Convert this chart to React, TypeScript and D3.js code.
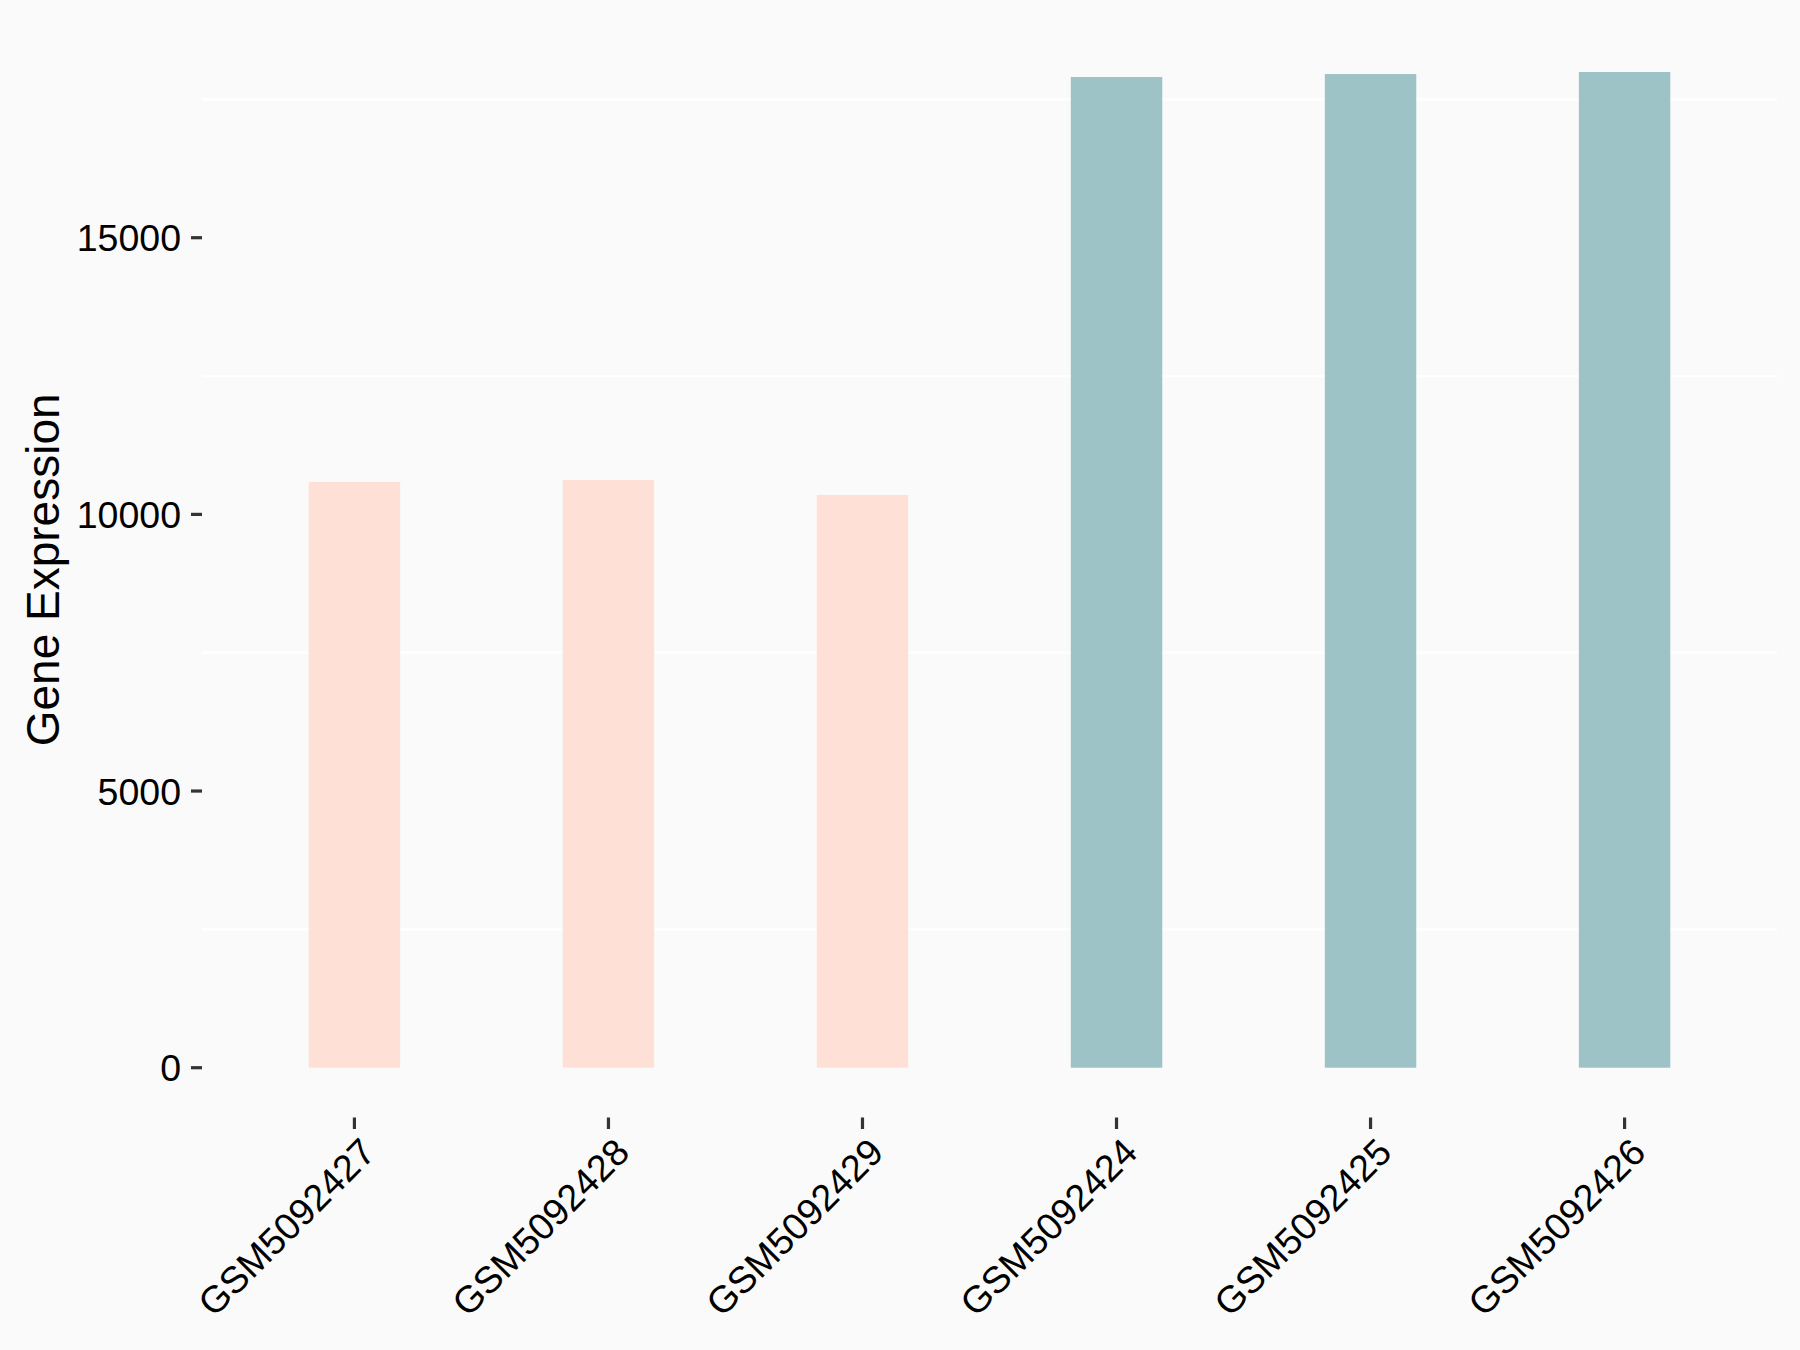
import React from "react";
import * as d3 from "d3";

const samples = ["GSM5092427", "GSM5092428", "GSM5092429", "GSM5092424", "GSM5092425", "GSM5092426"];
const expression = [10585, 10621, 10350, 17904, 17958, 17995];
const groups = ["B", "B", "B", "A", "A", "A"];
const groupColors: Record<string, string> = { A: "#9DC3C7", B: "#FFE0D6" };
const yTicks = [0, 5000, 10000, 15000];
const yMinor = [2500, 7500, 12500, 17500];

const W = 1800;
const H = 1350;
const panel = { left: 202, right: 1777, top: 22.2, bottom: 1117.5 };
const FONT = "'Liberation Sans', Arial, Helvetica, sans-serif";

export default function App() {
  const maxV = d3.max(expression) as number;
  const pad = maxV * 0.05;
  const y = d3.scaleLinear().domain([-pad, maxV + pad]).range([panel.bottom, panel.top]);
  const x = d3.scalePoint<string>().domain(samples).range([panel.left, panel.right]).padding(0.6);
  const step = x.step();
  const barW = step * 0.36;

  return (
    <svg
      width={W}
      height={H}
      viewBox={`0 0 ${W} ${H}`}
      style={{ position: "absolute", left: 0, top: 0, display: "block" }}
    >
      <rect x={0} y={0} width={W} height={H} fill="#FAFAFA" />
      {yMinor.map((v) => (
        <line key={"g" + v} x1={panel.left} x2={panel.right} y1={y(v)} y2={y(v)} stroke="#FFFFFF" strokeWidth={2.2} />
      ))}
      {samples.map((s, i) => (
        <rect
          key={s}
          x={(x(s) as number) - barW / 2}
          y={y(expression[i])}
          width={barW}
          height={y(0) - y(expression[i])}
          fill={groupColors[groups[i]]}
        />
      ))}
      {yTicks.map((v) => (
        <g key={"t" + v}>
          <line x1={panel.left - 11} x2={panel.left} y1={y(v)} y2={y(v)} stroke="#333333" strokeWidth={3.2} />
          <text
            x={panel.left - 21}
            y={y(v)}
            dy="0.36em"
            textAnchor="end"
            fontFamily={FONT}
            fontSize={37.5}
            fill="#000000"
          >
            {v}
          </text>
        </g>
      ))}
      {samples.map((s) => {
        const cx = x(s) as number;
        return (
          <g key={"x" + s}>
            <line x1={cx} x2={cx} y1={panel.bottom} y2={panel.bottom + 11.5} stroke="#333333" strokeWidth={3.2} />
            <text
              transform={`translate(${cx + 4},${panel.bottom + 18}) rotate(-45)`}
              textAnchor="end"
              dy="0.72em"
              fontFamily={FONT}
              fontSize={37.5}
              fill="#000000"
            >
              {s}
            </text>
          </g>
        );
      })}
      <text
        transform={`translate(59,${(panel.top + panel.bottom) / 2}) rotate(-90)`}
        textAnchor="middle"
        fontFamily={FONT}
        fontSize={46}
        fill="#000000"
      >
        Gene Expression
      </text>
    </svg>
  );
}
